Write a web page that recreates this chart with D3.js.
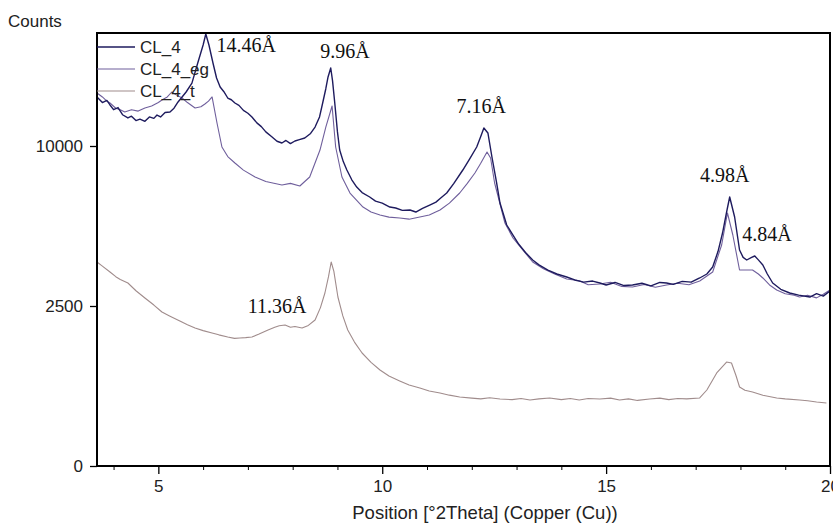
<!DOCTYPE html>
<html>
<head>
<meta charset="utf-8">
<script src="https://d3js.org/d3.v7.min.js"></script>
<style>
  body { margin: 0; background: #fff; }
  .tick text { font-family: "Liberation Sans", Arial, sans-serif; font-size: 17px; fill: #222; }
  .peak { font-family: "Liberation Serif", "Times New Roman", serif; font-size: 20px; fill: #111; }
  .lbl { font-family: "Liberation Sans", Arial, sans-serif; fill: #222; }
</style>
</head>
<body>
<script>
// data: [2theta, counts]
var cl4 = [
  [3.63,13300],[3.75,12900],[3.85,13050],[3.92,12730],[4.0,12400],[4.1,12550],[4.2,12050],[4.32,11830],
  [4.4,11950],[4.5,11650],[4.59,11750],[4.7,11600],[4.8,11900],[4.9,11800],[4.97,12030],[5.05,11900],
  [5.15,12200],[5.26,12240],[5.35,12500],[5.44,12940],[5.53,13300],[5.62,13660],[5.75,14320],[5.88,15860],
  [6.0,17310],[6.06,18225],[6.13,17310],[6.22,15860],[6.3,14700],[6.38,14030],[6.46,13700],[6.55,13225],
  [6.63,13100],[6.71,12870],[6.8,12700],[6.9,12350],[7.0,12150],[7.09,11895],[7.2,11500],[7.3,11250],
  [7.4,10900],[7.54,10570],[7.65,10300],[7.76,10190],[7.85,10350],[7.95,10150],[8.05,10315],[8.15,10400],
  [8.27,10506],[8.4,10800],[8.5,11220],[8.6,11900],[8.67,12870],[8.74,13900],[8.79,14780],[8.85,15470],
  [8.89,14500],[8.94,12870],[9.0,10900],[9.05,9750],[9.13,9050],[9.21,8556],[9.32,8000],[9.43,7600],
  [9.55,7300],[9.72,7066],[9.85,6850],[10.0,6750],[10.17,6550],[10.3,6500],[10.45,6380],[10.62,6400],
  [10.75,6300],[10.9,6480],[11.06,6652],[11.2,6800],[11.3,7000],[11.44,7278],[11.6,7800],[11.8,8556],
  [11.95,9200],[12.11,9938],[12.2,10600],[12.27,11156],[12.36,10830],[12.45,9325],[12.55,7900],[12.63,6755],
  [12.78,5672],[12.92,5211],[13.05,4800],[13.2,4450],[13.36,4144],[13.5,3950],[13.7,3750],[13.9,3600],
  [14.12,3488],[14.3,3380],[14.5,3300],[14.7,3340],[14.86,3270],[15.0,3200],[15.2,3290],[15.4,3180],
  [15.59,3199],[15.8,3260],[16.0,3170],[16.2,3290],[16.35,3270],[16.5,3220],[16.7,3330],[16.9,3300],
  [17.09,3452],[17.25,3600],[17.38,3867],[17.5,4500],[17.6,5301],[17.7,6400],[17.76,7066],[17.87,6054],
  [17.98,4556],[18.06,4250],[18.14,4144],[18.25,4250],[18.32,4307],[18.4,4150],[18.5,3945],[18.6,3600],
  [18.72,3270],[18.9,3050],[19.1,2923],[19.3,2850],[19.55,2789],[19.7,2900],[19.85,2820],[20.0,2991]
];

var cl4eg = [
  [3.63,13590],[3.75,13300],[3.85,13000],[3.92,12870],[4.05,12500],[4.15,12400],[4.25,12240],[4.4,12400],
  [4.55,12300],[4.7,12515],[4.85,12650],[5.0,12900],[5.08,13080],[5.2,13300],[5.3,13660],[5.4,13450],
  [5.53,13225],[5.65,12900],[5.82,12515],[5.95,12600],[6.04,12797],[6.12,13000],[6.2,13300],[6.31,11490],
  [6.42,9938],[6.55,9350],[6.71,8966],[6.9,8550],[7.16,8156],[7.4,7900],[7.76,7711],[7.95,7800],
  [8.16,7656],[8.38,8156],[8.61,9751],[8.74,11220],[8.88,12656],[8.96,9938],[9.1,8156],[9.28,7278],
  [9.57,6550],[9.75,6300],[9.95,6152],[10.15,6050],[10.39,6006],[10.6,5950],[10.84,6055],[11.05,6150],
  [11.29,6400],[11.5,6750],[11.73,7278],[11.9,7800],[12.07,8383],[12.2,8950],[12.34,9628],[12.42,9264],
  [12.51,7821],[12.74,5767],[12.92,5077],[13.36,4064],[13.6,3800],[13.85,3600],[14.12,3415],[14.4,3350],
  [14.6,3210],[14.86,3235],[15.1,3300],[15.35,3150],[15.59,3129],[15.85,3220],[16.1,3120],[16.35,3199],
  [16.6,3260],[16.85,3210],[17.09,3342],[17.38,3675],[17.58,4770],[17.71,6251],[17.83,5211],[17.98,3752],
  [18.27,3752],[18.4,3600],[18.5,3452],[18.65,3200],[18.81,3025],[19.0,2900],[19.2,2850],[19.32,2789],
  [19.5,2850],[19.7,2760],[19.85,2880],[20.0,3025]
];

var cl4t = [
  [3.63,4064],[3.75,3900],[3.92,3675],[4.05,3500],[4.15,3400],[4.32,3270],[4.5,3000],[4.7,2756],
  [4.9,2530],[5.08,2316],[5.25,2200],[5.48,2053],[5.65,1950],[5.82,1860],[6.0,1790],[6.2,1727],
  [6.35,1680],[6.55,1625],[6.7,1590],[6.82,1600],[6.95,1610],[7.09,1625],[7.25,1700],[7.45,1806],
  [7.6,1880],[7.7,1920],[7.83,1941],[7.95,1880],[8.05,1900],[8.21,1860],[8.35,1930],[8.5,2082],
  [8.62,2450],[8.72,2923],[8.8,3500],[8.86,4064],[8.92,3700],[9.01,2789],[9.12,2200],[9.23,1806],
  [9.38,1500],[9.55,1247],[9.75,1050],[9.95,900],[10.15,790],[10.39,706],[10.6,640],[10.84,594],
  [11.05,550],[11.29,520],[11.5,490],[11.73,465],[12.0,450],[12.2,440],[12.4,455],[12.63,438],
  [12.9,430],[13.1,445],[13.3,425],[13.5,440],[13.74,452],[14.0,430],[14.2,445],[14.4,425],
  [14.6,445],[14.86,438],[15.1,450],[15.3,425],[15.5,440],[15.7,420],[15.97,438],[16.2,450],
  [16.4,430],[16.6,445],[16.8,440],[17.09,452],[17.25,564],[17.47,845],[17.69,1056],[17.8,1036],
  [17.9,800],[17.98,609],[18.1,560],[18.27,535],[18.5,490],[18.81,452],[19.0,440],[19.32,425],
  [19.5,415],[19.7,400],[19.92,388]
];

var seriesNames = ["CL_4", "CL_4_eg", "CL_4_t"];
var seriesColors = ["#1e1b5e", "#6f5f9c", "#a08c8c"];

var xMajor = [5, 10, 15, 20];
var xMinor = [4, 6, 7, 8, 9, 11, 12, 13, 14, 16, 17, 18, 19];
var yTicks = [0, 2500, 10000];

// peak labels and where they sit: [2theta, counts]
var peakText = ["14.46Å", "9.96Å", "7.16Å", "4.98Å", "4.84Å", "11.36Å"];
var peakPos = [[6.96, 16740], [9.17, 16256], [12.21, 12170], [17.65, 7877], [18.59, 4944], [7.65, 2286]];

var W = 833, H = 525;
var pLeft = 97, pRight = 830, pTop = 33, pBottom = 466;

var svg = d3.select("body").append("svg")
  .attr("width", W).attr("height", H);

var x = d3.scaleLinear().domain([3.63, 20]).range([pLeft, pRight]);
var y = d3.scaleSqrt().domain([0, 18310]).range([pBottom, pTop]);

var line = d3.line()
  .x(function(d) { return x(d[0]); })
  .y(function(d) { return y(d[1]); });

// curves, bottom one first
[cl4t, cl4eg, cl4].forEach(function(s, i) {
  var k = 2 - i;
  svg.append("path")
    .datum(s)
    .attr("d", line)
    .attr("fill", "none")
    .attr("stroke", seriesColors[k])
    .attr("stroke-width", k === 0 ? 1.4 : 1.1)
    .attr("stroke-linejoin", "round");
});

// frame
svg.append("rect")
  .attr("x", pLeft).attr("y", pTop)
  .attr("width", pRight - pLeft).attr("height", pBottom - pTop)
  .attr("fill", "none").attr("stroke", "#000").attr("stroke-width", 2);

// x axis
var xAxisG = svg.append("g").attr("transform", "translate(0," + pBottom + ")");
xAxisG.call(d3.axisBottom(x).tickValues(xMajor).tickSize(8).tickPadding(6).tickFormat(d3.format("d")));
xAxisG.select(".domain").remove();
xAxisG.selectAll(".tick line").attr("stroke", "#000").attr("stroke-width", 1.3);

var xMinorG = svg.append("g").attr("transform", "translate(0," + pBottom + ")");
xMinorG.call(d3.axisBottom(x).tickValues(xMinor).tickSize(4).tickFormat(""));
xMinorG.select(".domain").remove();
xMinorG.selectAll(".tick line").attr("stroke", "#000");

// y axis
var yAxisG = svg.append("g").attr("transform", "translate(" + pLeft + ",0)");
yAxisG.call(d3.axisLeft(y).tickValues(yTicks).tickSize(7).tickPadding(7).tickFormat(d3.format("d")));
yAxisG.select(".domain").remove();
yAxisG.selectAll(".tick line").attr("stroke", "#000").attr("stroke-width", 1.3);

// axis titles
svg.append("text").attr("class", "lbl")
  .attr("x", 8).attr("y", 27).style("font-size", "17px").text("Counts");
svg.append("text").attr("class", "lbl")
  .attr("x", 485).attr("y", 519)
  .attr("text-anchor", "middle").style("font-size", "18.5px")
  .text("Position [°2Theta] (Copper (Cu))");

// legend
seriesNames.forEach(function(n, i) {
  var ly = 47 + i * 22;
  svg.append("line")
    .attr("x1", pLeft).attr("x2", 135).attr("y1", ly).attr("y2", ly)
    .attr("stroke", seriesColors[i]).attr("stroke-width", i === 0 ? 1.4 : 1.1);
  svg.append("text").attr("class", "lbl")
    .attr("x", 140).attr("y", ly + 6).style("font-size", "17px").text(n);
});

// peak labels
svg.selectAll("text.peak")
  .data(peakText)
  .enter().append("text")
  .attr("class", "peak")
  .attr("x", function(d, i) { return x(peakPos[i][0]); })
  .attr("y", function(d, i) { return y(peakPos[i][1]); })
  .attr("text-anchor", "middle")
  .text(function(d) { return d; });
</script>
</body>
</html>
